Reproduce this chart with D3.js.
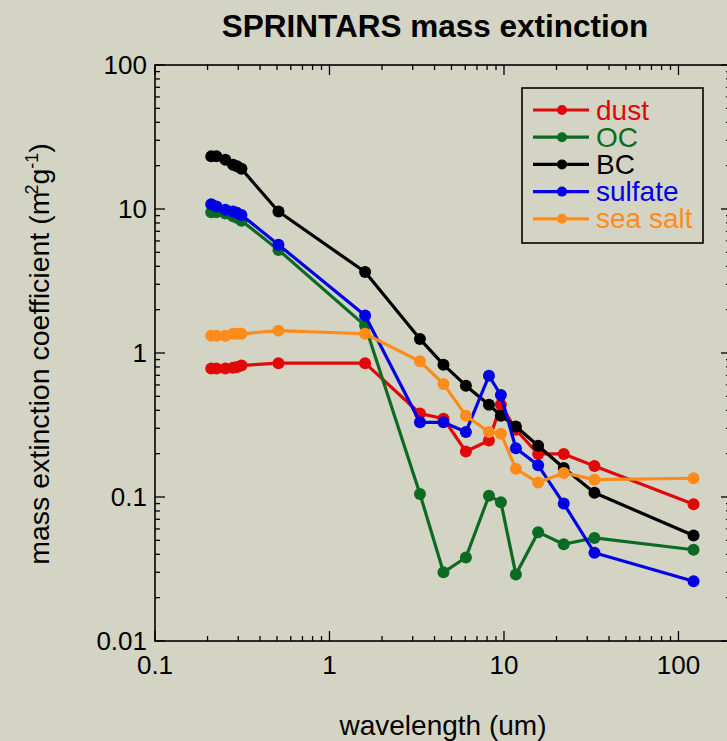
<!DOCTYPE html>
<html>
<head>
<meta charset="utf-8">
<script src="https://cdn.jsdelivr.net/npm/d3@7/dist/d3.min.js"></script>
<style>
  html, body { margin: 0; padding: 0; background: #d4d4c5; }
  svg { display: block; font-family: "Liberation Sans", Arial, sans-serif; }
</style>
</head>
<body>
<div id="chart"></div>
<script>
// wavelengths (um), shared by every species
var wavelength = [0.21, 0.225, 0.253, 0.28, 0.295, 0.313, 0.51, 1.6, 3.3, 4.5, 6.05, 8.2, 9.6, 11.7, 15.7, 22, 33, 122];

var dust    = [0.78, 0.78, 0.78, 0.79, 0.80, 0.82, 0.85, 0.85, 0.38, 0.35, 0.207, 0.247, 0.437, 0.293, 0.199, 0.199, 0.164, 0.089];
var oc      = [9.5, 9.5, 9.3, 8.9, 8.7, 8.3, 5.2, 1.55, 0.105, 0.030, 0.038, 0.102, 0.092, 0.029, 0.057, 0.047, 0.052, 0.043];
var bc      = [23.2, 23.2, 22.0, 20.3, 19.8, 19.0, 9.6, 3.65, 1.25, 0.83, 0.593, 0.437, 0.367, 0.309, 0.227, 0.159, 0.107, 0.054];
var sulfate = [10.8, 10.4, 9.9, 9.6, 9.4, 9.1, 5.65, 1.82, 0.33, 0.33, 0.283, 0.695, 0.51, 0.218, 0.166, 0.090, 0.041, 0.026];
var seasalt = [1.32, 1.32, 1.32, 1.36, 1.36, 1.36, 1.43, 1.36, 0.875, 0.61, 0.367, 0.283, 0.275, 0.157, 0.126, 0.147, 0.132, 0.135];

var seriesNames  = ["dust", "OC", "BC", "sulfate", "sea salt"];
var seriesValues = [dust, oc, bc, sulfate, seasalt];
var seriesColors = ["#e00808", "#0b6b22", "#000000", "#0000e6", "#ff8c1a"];

var xTickLabels = ["0.1", "1", "10", "100"];
var yTickLabels = ["0.01", "0.1", "1", "10", "100"];

var width = 727, height = 741;
var margin = {top: 65, right: -4, bottom: 100, left: 155};

var svg = d3.select("#chart").append("svg")
    .attr("width", width)
    .attr("height", height);

svg.append("rect")
    .attr("width", width)
    .attr("height", height)
    .attr("fill", "#d4d4c5");

var x = d3.scaleLog()
    .domain([0.1, 200])
    .range([margin.left, width - margin.right]);

var y = d3.scaleLog()
    .domain([0.01, 100])
    .range([height - margin.bottom, margin.top]);

var x0 = x.range()[0], x1 = x.range()[1];
var y0 = y.range()[0], y1 = y.range()[1];

function isMajor(v) {
    var e = Math.log10(v);
    return Math.abs(e - Math.round(e)) < 1e-6;
}

// minor + major ticks on all four sides, pointing inward
var xTicks = x.ticks();
var yTicks = y.ticks();

var ticks = svg.append("g")
    .attr("stroke", "#000")
    .attr("stroke-width", 1.3);

xTicks.forEach(function (t) {
    var len = isMajor(t) ? 10 : 5;
    ticks.append("line").attr("x1", x(t)).attr("x2", x(t)).attr("y1", y0).attr("y2", y0 - len);
    ticks.append("line").attr("x1", x(t)).attr("x2", x(t)).attr("y1", y1).attr("y2", y1 + len);
});
yTicks.forEach(function (t) {
    var len = isMajor(t) ? 10 : 5;
    ticks.append("line").attr("y1", y(t)).attr("y2", y(t)).attr("x1", x0).attr("x2", x0 + len);
    ticks.append("line").attr("y1", y(t)).attr("y2", y(t)).attr("x1", x1).attr("x2", x1 - len);
});

svg.append("rect")
    .attr("x", x0)
    .attr("y", y1)
    .attr("width", x1 - x0)
    .attr("height", y0 - y1)
    .attr("fill", "none")
    .attr("stroke", "#000")
    .attr("stroke-width", 1.6);

// tick labels
var xMajor = xTicks.filter(isMajor);
svg.append("g").selectAll("text")
    .data(xMajor)
    .enter().append("text")
    .attr("x", function (d) { return x(d); })
    .attr("y", y0 + 33)
    .attr("text-anchor", "middle")
    .attr("font-size", 26)
    .text(function (d, i) { return xTickLabels[i]; });

var yMajor = yTicks.filter(isMajor);
svg.append("g").selectAll("text")
    .data(yMajor)
    .enter().append("text")
    .attr("x", x0 - 8)
    .attr("y", function (d) { return y(d) + 9; })
    .attr("text-anchor", "end")
    .attr("font-size", 26)
    .text(function (d, i) { return yTickLabels[i]; });

// titles
svg.append("text")
    .attr("x", 435)
    .attr("y", 37)
    .attr("text-anchor", "middle")
    .attr("font-weight", "bold")
    .attr("font-size", 31.5)
    .text("SPRINTARS mass extinction");

svg.append("text")
    .attr("x", 443)
    .attr("y", 735)
    .attr("text-anchor", "middle")
    .attr("font-size", 28)
    .text("wavelength (um)");

var yLabel = svg.append("text")
    .attr("transform", "translate(49,354) rotate(-90)")
    .attr("text-anchor", "middle")
    .attr("font-size", 28.5);
yLabel.append("tspan").text("mass extinction coefficient (m");
yLabel.append("tspan").attr("dy", -11).attr("font-size", 18).attr("dx", -3).text("2");
yLabel.append("tspan").attr("dy", 11).text("g");
yLabel.append("tspan").attr("dy", -11).attr("font-size", 18).text("-1");
yLabel.append("tspan").attr("dy", 11).text(")");

// series
var line = d3.line()
    .x(function (d) { return x(d[0]); })
    .y(function (d) { return y(d[1]); });

var plot = svg.append("g");

seriesValues.forEach(function (vals, i) {
    var pts = wavelength.map(function (w, j) { return [w, vals[j]]; });
    var g = plot.append("g");
    g.append("path")
        .attr("d", line(pts))
        .attr("fill", "none")
        .attr("stroke", seriesColors[i])
        .attr("stroke-width", 3.2)
        .attr("stroke-linejoin", "round");
    g.selectAll("circle")
        .data(pts)
        .enter().append("circle")
        .attr("cx", function (d) { return x(d[0]); })
        .attr("cy", function (d) { return y(d[1]); })
        .attr("r", 6)
        .attr("fill", seriesColors[i]);
});

// legend
var legend = svg.append("g");
legend.append("rect")
    .attr("x", 522)
    .attr("y", 88)
    .attr("width", 181)
    .attr("height", 155)
    .attr("fill", "none")
    .attr("stroke", "#000")
    .attr("stroke-width", 1.6);

seriesNames.forEach(function (name, i) {
    var cy = 110 + i * 27.2;
    legend.append("line")
        .attr("x1", 533).attr("x2", 589)
        .attr("y1", cy).attr("y2", cy)
        .attr("stroke", seriesColors[i])
        .attr("stroke-width", 3.2);
    legend.append("circle")
        .attr("cx", 562).attr("cy", cy).attr("r", 5)
        .attr("fill", seriesColors[i]);
    legend.append("text")
        .attr("x", 596)
        .attr("y", cy + 9.5)
        .attr("font-size", 28)
        .attr("fill", seriesColors[i])
        .text(name);
});
</script>
</body>
</html>
